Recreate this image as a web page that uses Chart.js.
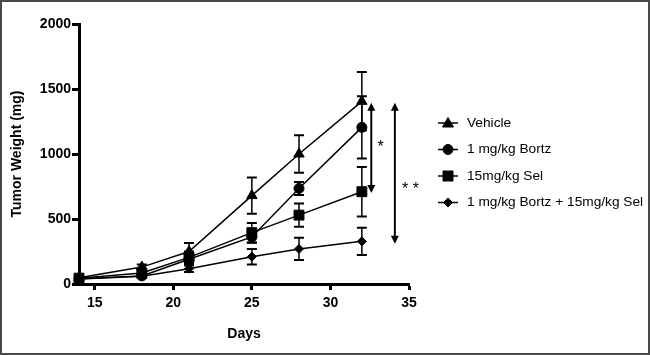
<!DOCTYPE html>
<html>
<head>
<meta charset="utf-8">
<script src="https://cdn.jsdelivr.net/npm/chart.js@4"></script>
<style>
  html, body { margin: 0; padding: 0; background: #fff; }
  #wrap { width: 650px; height: 355px; position: relative; }
</style>
</head>
<body>
<div id="wrap"><canvas id="tumor-chart" width="650" height="355"></canvas></div>
<script>
// Data ================================================================================================================
const days = [14, 18, 21, 25, 28, 32];
const xTicks = [15, 20, 25, 30, 35];

const vehicle    = [48, 130, 250, 680, 1000, 1405];
const vehicleErr = [10, 20, 65, 140, 145, 225];
const bortz      = [40, 62, 190, 362, 735, 1205];
const bortzErr   = [8, 15, 40, 45, 50, 240];
const sel        = [45, 85, 205, 395, 530, 710];
const selErr     = [8, 20, 45, 75, 90, 190];
const combo      = [38, 60, 118, 210, 270, 328];
const comboErr   = [8, 12, 25, 60, 85, 105];

const labels = ["Vehicle", "1 mg/kg Bortz", "15mg/kg Sel", "1 mg/kg Bortz + 15mg/kg Sel"];

// significance brackets: day position, top value, bottom value, label
const sigDay    = [32.6, 34.1];
const sigTop    = [1395, 1395];
const sigBottom = [700, 310];
const sigLabel  = ["*", "* *"];
const sigLabelDay = [33.2, 35.1];
const sigLabelVal = [1050, 730];
// =====================================================================================================================

const FONT = "'Liberation Sans', Arial, sans-serif";

function series(label, values, errs, style, radius) {
    return {
        label: label,
        data: days.map((d, i) => ({ x: d, y: values[i] })),
        errs: errs,
        borderColor: '#000',
        backgroundColor: '#000',
        borderWidth: 1.5,
        pointStyle: style,
        pointRadius: radius,
        pointHoverRadius: radius,
        pointBorderWidth: 1,
        clip: false
    };
}

// small filled legend symbols
function legendMarker(ctx, style, x, y) {
    ctx.save();
    ctx.fillStyle = 'rgb(0,0,0)';
    ctx.strokeStyle = 'rgb(0,0,0)';
    ctx.lineWidth = 1;
    ctx.beginPath();
    if (style === 'triangle') {
        ctx.moveTo(x, y - 5.5); ctx.lineTo(x + 5.5, y + 4); ctx.lineTo(x - 5.5, y + 4);
    } else if (style === 'circle') {
        ctx.arc(x, y, 5, 0, Math.PI * 2);
    } else if (style === 'rect') {
        ctx.rect(x - 5, y - 5, 10, 10);
    } else {
        ctx.moveTo(x, y - 4.5); ctx.lineTo(x + 4.5, y); ctx.lineTo(x, y + 4.5); ctx.lineTo(x - 4.5, y);
    }
    ctx.closePath();
    ctx.fill('nonzero');
    ctx.stroke();
    ctx.restore();
}

// error bars + significance arrows
const extras = {
    id: 'extras',
    afterDatasetsDraw(chart) {
        const ctx = chart.ctx;
        const xs = chart.scales.x, ys = chart.scales.y;
        ctx.save();
        ctx.strokeStyle = '#000';
        ctx.fillStyle = '#000';

        // error bars
        chart.data.datasets.forEach(ds => {
            ds.data.forEach((p, i) => {
                const x = xs.getPixelForValue(p.x);
                const y1 = ys.getPixelForValue(p.y + ds.errs[i]);
                const y2 = ys.getPixelForValue(Math.max(0, p.y - ds.errs[i]));
                ctx.lineWidth = 1.5;
                ctx.beginPath();
                ctx.moveTo(x, y1); ctx.lineTo(x, y2);
                ctx.stroke();
                ctx.lineWidth = 2;
                ctx.beginPath();
                ctx.moveTo(x - 5, y1); ctx.lineTo(x + 5, y1);
                ctx.moveTo(x - 5, y2); ctx.lineTo(x + 5, y2);
                ctx.stroke();
            });
        });

        // significance arrows
        sigDay.forEach((d, i) => {
            const x = xs.getPixelForValue(d);
            const yt = ys.getPixelForValue(sigTop[i]);
            const yb = ys.getPixelForValue(sigBottom[i]);
            ctx.lineWidth = 2;
            ctx.beginPath();
            ctx.moveTo(x, yt + 5); ctx.lineTo(x, yb - 5);
            ctx.stroke();
            ctx.beginPath();
            ctx.moveTo(x, yt); ctx.lineTo(x - 4, yt + 8); ctx.lineTo(x + 4, yt + 8); ctx.closePath();
            ctx.moveTo(x, yb); ctx.lineTo(x - 4, yb - 8); ctx.lineTo(x + 4, yb - 8); ctx.closePath();
            ctx.fill();

            ctx.font = '16px ' + FONT;
            ctx.textAlign = 'center';
            ctx.textBaseline = 'middle';
            ctx.fillText(sigLabel[i], xs.getPixelForValue(sigLabelDay[i]), ys.getPixelForValue(sigLabelVal[i]));
        });
        ctx.restore();
    },
    afterDraw(chart) {
        const ctx = chart.ctx;
        ctx.save();

        // legend
        const lx = 438, tx = 467, ly0 = 123, dy = 26.5;
        chart.data.datasets.forEach((ds, i) => {
            const y = ly0 + i * dy;
            ctx.strokeStyle = '#000';
            ctx.lineWidth = 1.5;
            ctx.beginPath();
            ctx.moveTo(lx, y); ctx.lineTo(lx + 20, y);
            ctx.stroke();
            legendMarker(ctx, ds.pointStyle, lx + 10, y);
            ctx.fillStyle = '#000';
            ctx.font = '13.7px ' + FONT;
            ctx.textAlign = 'left';
            ctx.textBaseline = 'middle';
            ctx.fillText(ds.label, tx, y);
        });

        // outer frame
        ctx.strokeStyle = '#4a4a4a';
        ctx.lineWidth = 2;
        ctx.strokeRect(1, 1, 648, 353);
        ctx.restore();
    }
};

new Chart(document.getElementById('tumor-chart'), {
    type: 'line',
    data: {
        datasets: [
            series(labels[0], vehicle, vehicleErr, 'triangle', 6),
            series(labels[1], bortz, bortzErr, 'circle', 5),
            series(labels[2], sel, selErr, 'rect', 7),
            series(labels[3], combo, comboErr, 'rectRot', 4.5)
        ]
    },
    options: {
        responsive: false,
        animation: false,
        events: [],
        layout: { padding: { left: 0, right: 241, top: 24, bottom: 0 } },
        plugins: {
            legend: { display: false },
            tooltip: { enabled: false }
        },
        scales: {
            x: {
                type: 'linear',
                min: 14,
                max: 35,
                afterFit: s => { s.height = 71; },
                afterBuildTicks: s => { s.ticks = xTicks.map(v => ({ value: v })); },
                border: { display: true, color: '#000', width: 3 },
                grid: { drawOnChartArea: false, color: '#000', tickLength: 6, tickWidth: 3 },
                ticks: { color: '#000', padding: 5, font: { family: FONT, size: 14, weight: 'bold' } },
                title: {
                    display: true, text: 'Days', color: '#000',
                    font: { family: FONT, size: 14, weight: 'bold' },
                    padding: { top: 0, bottom: 12 }
                }
            },
            y: {
                min: 0,
                max: 2000,
                afterFit: s => { s.width = 79; },
                border: { display: true, color: '#000', width: 3 },
                grid: { drawOnChartArea: false, color: '#000', tickLength: 7, tickWidth: 3 },
                ticks: {
                    stepSize: 500, color: '#000', padding: 1,
                    font: { family: FONT, size: 14, weight: 'bold' },
                    callback: v => String(v)
                },
                title: {
                    display: true, text: 'Tumor Weight (mg)', color: '#000',
                    font: { family: FONT, size: 14, weight: 'bold' },
                    padding: { top: 9, bottom: 0 }
                }
            }
        }
    },
    plugins: [extras]
});
</script>
</body>
</html>
